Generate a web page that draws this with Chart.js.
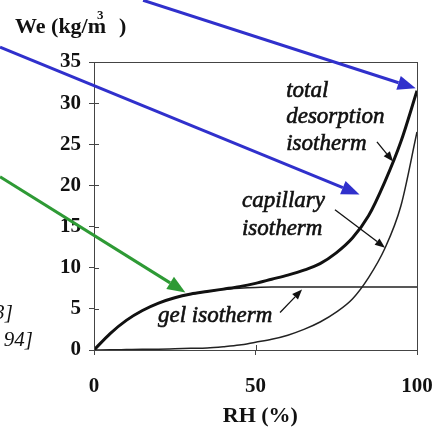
<!DOCTYPE html>
<html>
<head>
<meta charset="utf-8">
<script src="https://cdn.jsdelivr.net/npm/chart.js@4.4.0/dist/chart.umd.min.js"></script>
<style>
  html, body { margin: 0; padding: 0; background: #fff; }
</style>
</head>
<body>
<canvas id="chart_div" width="443" height="434"></canvas>
<script>
const ctx = document.getElementById('chart_div');

// relative humidity (%) and water content We (kg/m3)
const rh = [0, 5, 10, 15, 20, 25, 30, 35, 40, 45, 50, 55, 60, 65, 70, 75, 80, 85, 90, 95, 100];
const totalWe = [0, 2.0, 3.6, 4.8, 5.7, 6.35, 6.8, 7.1, 7.4, 7.7, 8.1, 8.6, 9.1, 9.7, 10.5, 11.8, 13.6, 16.3, 20.4, 25.3, 31.5];
const capillaryWe = [0, 0.02, 0.05, 0.08, 0.1, 0.15, 0.2, 0.25, 0.4, 0.6, 0.95, 1.3, 1.8, 2.5, 3.4, 4.6, 6.2, 8.8, 12.3, 17.5, 26.5];
const gelWe = [0, 2.0, 3.6, 4.8, 5.7, 6.35, 6.8, 7.1, 7.35, 7.5, 7.6, 7.65, 7.65, 7.65, 7.65, 7.65, 7.65, 7.65, 7.65, 7.65, 7.65];

const yTicks = [0, 5, 10, 15, 20, 25, 30, 35];
const xTicks = [0, 50, 100];

const toPoints = function (ys) {
    return rh.map((x, i) => ({ x: x, y: ys[i] }));
};

const SERIF = '"Liberation Serif", "DejaVu Serif", serif';
const INK = '#111';

// arrows given in data units [x0, y0, x1, y1, colour, width, head]
const arrows = [
    [15.2, 42.5, 99.6, 31.8, '#3030cc', 3, 18],
    [-29.1, 36.8, 82.2, 18.9, '#3030cc', 3, 18],
    [-29.1, 21.05, 28.3, 7.0, '#2e9a35', 3, 18],
    [87.6, 25.3, 92.6, 22.9, INK, 1.3, 10],
    [74.6, 17.05, 90.1, 12.44, INK, 1.3, 10],
    [57.6, 4.55, 64.4, 7.34, INK, 1.3, 10]
];

// curve labels: [text, x, y baseline] in data units
const labelsInPlot = [
    ['total', 59.5, 30.7],
    ['desorption', 59.5, 27.6],
    ['isotherm', 59.5, 24.3],
    ['capillary', 45.8, 17.4],
    ['isotherm', 45.8, 14.0],
    ['gel isotherm', 19.8, 3.4]
];

const drawArrow = function (c, x0, y0, x1, y1, color, w, head) {
    const ang = Math.atan2(y1 - y0, x1 - x0);
    const bx = x1 - Math.cos(ang) * head;
    const by = y1 - Math.sin(ang) * head;
    c.save();
    c.strokeStyle = color;
    c.fillStyle = color;
    c.lineWidth = w;
    c.beginPath();
    c.moveTo(x0, y0);
    c.lineTo(bx, by);
    c.stroke();
    c.beginPath();
    c.moveTo(x1, y1);
    c.lineTo(bx + Math.sin(ang) * head * 0.4, by - Math.cos(ang) * head * 0.4);
    c.lineTo(bx - Math.sin(ang) * head * 0.4, by + Math.cos(ang) * head * 0.4);
    c.closePath();
    c.fill();
    c.restore();
};

const heavyText = function (c, t, x, y) {
    c.fillText(t, x, y);
    c.strokeText(t, x, y);
};

const decorations = {
    id: 'decorations',
    afterDraw(chart) {
        const c = chart.ctx;
        const a = chart.chartArea;
        const xs = chart.scales.x;
        const ys = chart.scales.y;
        c.save();
        // box round the plot
        c.strokeStyle = '#444';
        c.lineWidth = 1;
        c.strokeRect(a.left + 0.5, a.top + 0.5, a.right - a.left, a.bottom - a.top);
        // inner tick marks
        c.beginPath();
        yTicks.forEach(v => {
            const p = Math.round(ys.getPixelForValue(v)) + 0.5;
            c.moveTo(a.left, p);
            c.lineTo(a.left + 5, p);
        });
        xTicks.forEach(v => {
            const p = Math.round(xs.getPixelForValue(v)) + 0.5;
            c.moveTo(p, a.bottom);
            c.lineTo(p, a.bottom - 5);
        });
        c.stroke();

        // labels on the curves
        c.fillStyle = INK;
        c.strokeStyle = INK;
        c.lineWidth = 0.6;
        c.font = 'italic 23px ' + SERIF;
        c.textAlign = 'left';
        c.textBaseline = 'alphabetic';
        labelsInPlot.forEach(l => {
            heavyText(c, l[0], xs.getPixelForValue(l[1]), ys.getPixelForValue(l[2]));
        });

        // axis titles
        c.font = 'bold 22px ' + SERIF;
        c.textAlign = 'left';
        c.fillText('We (kg/m', 15, 33);
        const w = c.measureText('We (kg/m').width;
        c.font = 'bold 13px ' + SERIF;
        c.fillText('3', 15 + w - 9, 19);
        c.font = 'bold 22px ' + SERIF;
        c.fillText(')', 15 + w + 13, 33);
        c.textAlign = 'center';
        c.fillText('RH (%)', xs.getPixelForValue(51.5), 422);

        // cut-off references on the left
        c.font = 'italic 21px ' + SERIF;
        c.textAlign = 'right';
        c.fillText('3]', 13, 319);
        c.fillText('94]', 33, 346);
        c.restore();

        arrows.forEach(r => {
            drawArrow(c, xs.getPixelForValue(r[0]), ys.getPixelForValue(r[1]),
                xs.getPixelForValue(r[2]), ys.getPixelForValue(r[3]), r[4], r[5], r[6]);
        });
    }
};

new Chart(ctx, {
    type: 'scatter',
    data: {
        datasets: [
            {
                label: 'total desorption isotherm',
                data: toPoints(totalWe),
                showLine: true,
                borderColor: INK,
                borderWidth: 3,
                pointRadius: 0,
                cubicInterpolationMode: 'monotone'
            },
            {
                label: 'capillary isotherm',
                data: toPoints(capillaryWe),
                showLine: true,
                borderColor: '#222',
                borderWidth: 1.5,
                pointRadius: 0,
                cubicInterpolationMode: 'monotone'
            },
            {
                label: 'gel isotherm',
                data: toPoints(gelWe),
                showLine: true,
                borderColor: '#222',
                borderWidth: 1.5,
                pointRadius: 0,
                cubicInterpolationMode: 'monotone'
            }
        ]
    },
    options: {
        responsive: false,
        animation: false,
        devicePixelRatio: 1,
        layout: {
            padding: { left: 0, right: 26, top: 62, bottom: 0 }
        },
        plugins: {
            legend: { display: false },
            tooltip: { enabled: false }
        },
        scales: {
            x: {
                type: 'linear',
                min: 0,
                max: 100,
                afterBuildTicks: scale => { scale.ticks = xTicks.map(v => ({ value: v })); },
                afterFit: scale => {
                    scale.height = 84;
                    scale.paddingLeft = 0;
                    scale.paddingRight = 0;
                },
                ticks: {
                    color: INK,
                    padding: 19,
                    font: { family: SERIF, size: 21, weight: 'bold' }
                },
                grid: { drawOnChartArea: false, drawTicks: true, tickLength: 5, color: '#444' },
                border: { display: true, color: '#444', width: 1 }
            },
            y: {
                type: 'linear',
                min: 0,
                max: 35,
                afterBuildTicks: scale => { scale.ticks = yTicks.map(v => ({ value: v })); },
                afterFit: scale => {
                    scale.width = 94;
                    scale.paddingTop = 0;
                    scale.paddingBottom = 0;
                },
                ticks: {
                    color: INK,
                    padding: 8,
                    font: { family: SERIF, size: 21, weight: 'bold' }
                },
                grid: { drawOnChartArea: false, drawTicks: true, tickLength: 5, color: '#444' },
                border: { display: true, color: '#444', width: 1 }
            }
        }
    },
    plugins: [decorations]
});
</script>
</body>
</html>
